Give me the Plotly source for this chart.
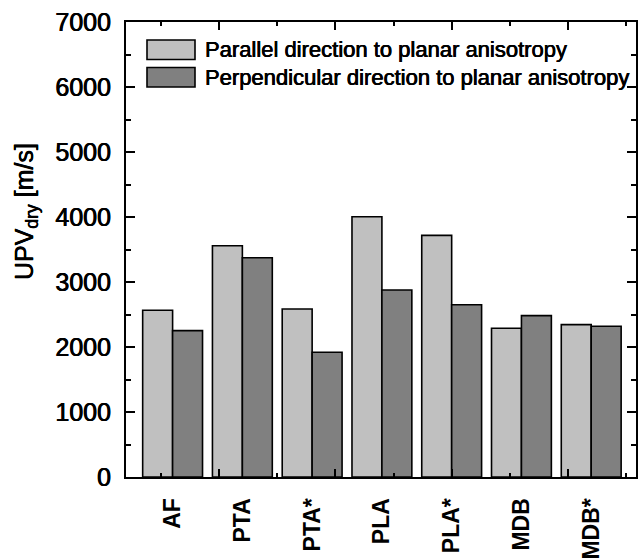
import plotly.graph_objects as go

# UPV (dry) for each sample group, measured in two directions
categories = ["AF", "PTA", "PTA*", "PLA", "PLA*", "MDB", "MDB*"]
parallel = [2565, 3558, 2585, 4003, 3717, 2289, 2344]
perpendicular = [2252, 3373, 1920, 2877, 2651, 2482, 2319]
series_names = [
    "Parallel direction to planar anisotropy",
    "Perpendicular direction to planar anisotropy",
]
series_colors = ["#c0c0c0", "#808080"]

# Decorative bottom/top tick marks on a linear overlay axis
x_major_ticks = [0.667, 2.333, 4.0, 5.667]
x_minor_ticks = [-0.167, 1.5, 3.167, 4.833, 6.5]
x_range = [-0.668, 6.642]

FONT = "Liberation Sans, Arial, sans-serif"
HEAVY = "0.35px 0 0 black, -0.35px 0 0 black"

fig = go.Figure()
for name, vals, col in zip(series_names, [parallel, perpendicular], series_colors):
    fig.add_trace(go.Bar(
        x=categories, y=vals, name=name,
        marker=dict(color=col, line=dict(color="black", width=1.6)),
        showlegend=False,
    ))

# empty trace so the overlay tick axis is drawn
fig.add_trace(go.Scatter(x=[None], y=[None], xaxis="x2", showlegend=False,
                         hoverinfo="skip"))

fig.update_layout(
    width=638, height=559,
    margin=dict(l=126, r=2, t=22, b=82),
    paper_bgcolor="white", plot_bgcolor="white",
    barmode="group", bargap=0.142, bargroupgap=0,
    font=dict(family=FONT, color="black"),
    xaxis=dict(
        range=x_range, showline=True, linecolor="black", linewidth=2,
        mirror=True, ticks="", showgrid=False, zeroline=False,
        tickangle=-90, ticklabelstandoff=10, automargin=False,
        tickfont=dict(family=FONT, size=23, color="black", weight="bold"),
    ),
    xaxis2=dict(
        overlaying="x", anchor="y", side="bottom", range=x_range,
        showline=False, showgrid=False, zeroline=False, showticklabels=False,
        tickmode="array", tickvals=x_major_ticks, ticks="inside",
        ticklen=8, tickwidth=2, tickcolor="black", mirror="ticks",
        automargin=False,
        minor=dict(tickmode="array", tickvals=x_minor_ticks, ticks="inside",
                   ticklen=4, tickwidth=2, tickcolor="black"),
    ),
    yaxis=dict(
        range=[0, 7000], tickmode="linear", tick0=0, dtick=1000,
        showline=True, linecolor="black", linewidth=2, mirror="ticks",
        ticks="inside", ticklen=9, tickwidth=2, tickcolor="black",
        minor=dict(dtick=500, ticks="inside", ticklen=5, tickwidth=2,
                   tickcolor="black"),
        showgrid=False, zeroline=False, ticklabelstandoff=8, automargin=False,
        tickfont=dict(family=FONT, size=25, color="black", shadow=HEAVY),
    ),
)

# legend drawn as swatches plus labels
plot_w = 638 - 126 - 2
plot_h = 559 - 22 - 82

def px_x(px):
    return (px - 126) / plot_w

def px_y(py):
    return (559 - 82 - py) / plot_h

rows = [(40, 59.5), (67.5, 87)]
for (y0, y1), name, col in zip(rows, series_names, series_colors):
    fig.add_shape(type="rect", xref="paper", yref="paper",
                  x0=px_x(147), x1=px_x(195), y0=px_y(y1), y1=px_y(y0),
                  fillcolor=col, line=dict(color="black", width=1.6))
    fig.add_annotation(xref="paper", yref="paper", x=px_x(203),
                       y=px_y((y0 + y1) / 2), text=name, showarrow=False,
                       xanchor="left", yanchor="middle",
                       font=dict(family=FONT, size=22, color="black",
                                 shadow=HEAVY))

fig.add_annotation(xref="paper", yref="paper", x=px_x(26), y=px_y(212),
                   text="UPV<sub>dry</sub> [m/s]", textangle=-90,
                   showarrow=False, xanchor="center", yanchor="middle",
                   font=dict(family=FONT, size=25, color="black",
                             shadow=HEAVY))

fig.write_html("out.html")
